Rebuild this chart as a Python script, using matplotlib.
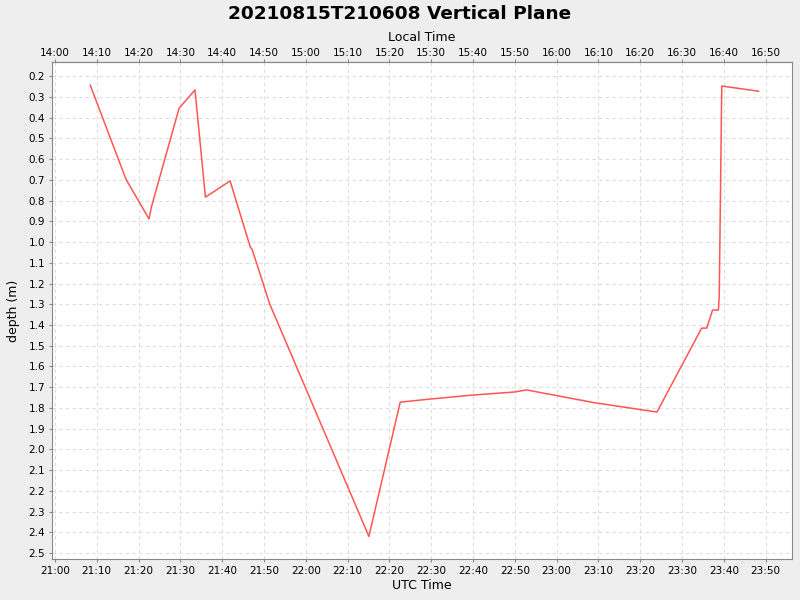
import matplotlib
matplotlib.use("Agg")
import matplotlib.pyplot as plt
from matplotlib.ticker import FixedLocator, FuncFormatter

# sample times (UTC) and depth readings
utc_times = ["21:08:27", "21:17:00", "21:22:30", "21:23:06", "21:29:42", "21:31:48",
             "21:33:30", "21:36:00", "21:41:54", "21:46:42", "21:47:12", "21:51:24",
             "22:15:06", "22:22:30", "22:22:36", "22:29:54", "22:40:00", "22:50:00",
             "22:52:48", "23:08:48", "23:24:00", "23:34:42", "23:35:54", "23:37:18",
             "23:38:42", "23:38:54", "23:39:30", "23:48:18"]
depth = [0.243, 0.697, 0.888, 0.829, 0.354, 0.306,
         0.266, 0.783, 0.705, 1.022, 1.037, 1.300,
         2.420, 1.780, 1.772, 1.757, 1.738, 1.723,
         1.713, 1.774, 1.820, 1.415, 1.415, 1.328,
         1.328, 1.254, 0.247, 0.272]

utc_offset_hours = -7
title = "20210815T210608 Vertical Plane"


def to_minutes(s):
    h, m, sec = (int(p) for p in s.split(":"))
    return (h - 21) * 60 + m + sec / 60.0


def fmt_clock(minutes, offset=0):
    total = int(round(minutes)) + 21 * 60 + offset * 60
    return "%02d:%02d" % ((total // 60) % 24, total % 60)


x = [to_minutes(t) for t in utc_times]

fig = plt.figure(figsize=(8, 6), dpi=100, facecolor="#eeeeee")
ax = fig.add_axes([0.065, 0.0683, 0.925, 0.8284])
ax.set_facecolor("white")

ax.plot(x, depth, color="#ff5555", linewidth=1.1)

ticks = list(range(0, 171, 10))
ax.set_xlim(-0.7, 176.3)
ax.set_ylim(2.529, 0.131)
ax.xaxis.set_major_locator(FixedLocator(ticks))
ax.xaxis.set_major_formatter(FuncFormatter(lambda v, p: fmt_clock(v)))
ax.set_yticks([round(0.2 + 0.1 * i, 1) for i in range(24)])
ax.yaxis.set_major_formatter(FuncFormatter(lambda v, p: "%.1f" % v))

ax.grid(True, color="#dcdcdc", linestyle=(0, (3, 3)), linewidth=0.8)
for sp in ax.spines.values():
    sp.set_color("#888888")
ax.tick_params(labelsize=7.5, length=2, color="#888888", pad=3)

ax.set_xlabel("UTC Time", fontsize=9, labelpad=2)
ax.set_ylabel("depth (m)", fontsize=9, labelpad=6)

top = ax.secondary_xaxis("top")
top.xaxis.set_major_locator(FixedLocator(ticks))
top.xaxis.set_major_formatter(FuncFormatter(lambda v, p: fmt_clock(v, utc_offset_hours)))
top.tick_params(labelsize=7.5, length=2, color="#888888", pad=1)
top.spines["top"].set_color("#888888")
top.set_xlabel("Local Time", fontsize=9, labelpad=5)

fig.text(0.5, 0.992, title, ha="center", va="top", fontsize=13.3, fontweight="bold")

fig.savefig("out.png", dpi=100, facecolor=fig.get_facecolor())
